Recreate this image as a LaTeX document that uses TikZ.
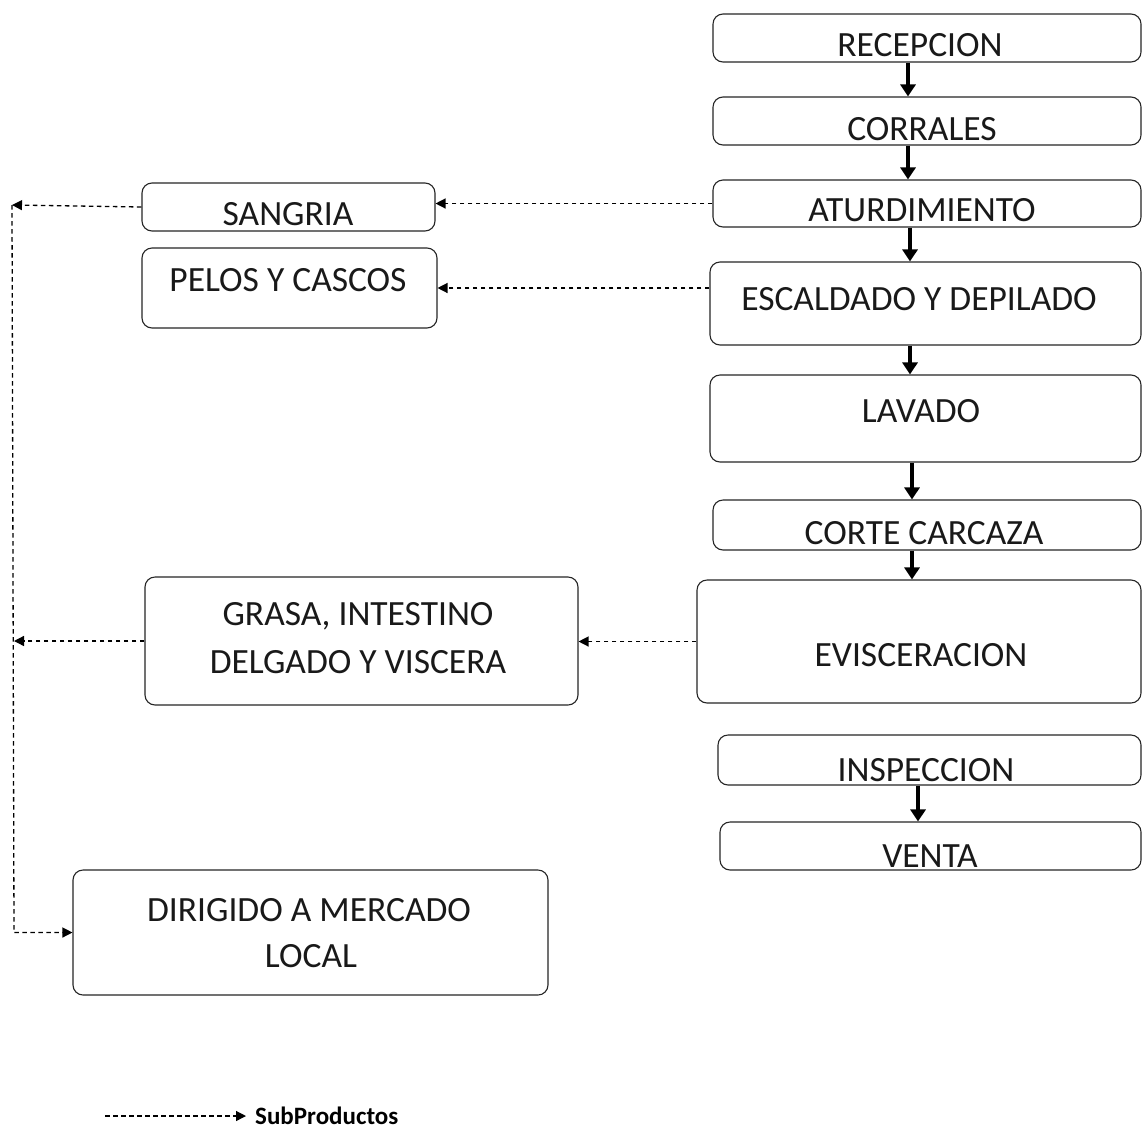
\documentclass[tikz,border=0pt]{standalone}
\usepackage{fontspec}
\setmainfont{Carlito}
\usetikzlibrary{arrows.meta}
\tikzset{
  box/.style={draw=black!85, line width=1.1pt, rounded corners=10pt, inner sep=0pt},
  lbl/.style={font=\fontsize{35.5}{48}\selectfont, inner sep=0pt, align=center, text=black!90},
  flow/.style={line width=3.8pt, -{Triangle[length=12pt,width=15pt]}},
  sub/.style={line width=1.3pt, dash pattern=on 4.5pt off 3.5pt, -{Triangle[length=10pt,width=10pt]}},
}
\begin{document}
\begin{tikzpicture}[x=1pt,y=-1pt]
\useasboundingbox[fill=white] (0,0) rectangle (1145,1130);

% main flow boxes
\node[box, minimum width=428pt, minimum height=48pt] (rec) at (927,38) {};
\node[box, minimum width=428pt, minimum height=48pt] (cor) at (927,121) {};
\node[box, minimum width=428pt, minimum height=47pt] (atu) at (927,203.5) {};
\node[box, minimum width=431pt, minimum height=83pt] (esc) at (925.5,303.5) {};
\node[box, minimum width=431pt, minimum height=87pt] (lav) at (925.5,418.5) {};
\node[box, minimum width=428pt, minimum height=50pt] (cc) at (927,525) {};
\node[box, minimum width=444pt, minimum height=123pt] (evi) at (919,641.5) {};
\node[box, minimum width=423pt, minimum height=50pt] (insp) at (929.5,760) {};
\node[box, minimum width=421pt, minimum height=48pt] (ven) at (930.5,846) {};

% by-product boxes
\node[box, minimum width=293pt, minimum height=48pt] (san) at (288.5,207) {};
\node[box, minimum width=295pt, minimum height=80pt] (pel) at (289.5,288) {};
\node[box, minimum width=433pt, minimum height=128pt] (gra) at (361.5,641) {};
\node[box, minimum width=475pt, minimum height=125pt] (dir) at (310.5,932.5) {};

% labels
\node[lbl, anchor=base] (recT) at (920,56) {RECEPCION};
\node[lbl, anchor=base] (corT) at (922,140) {CORRALES};
\node[lbl, anchor=base] (atuT) at (922,221) {ATURDIMIENTO};
\node[lbl, anchor=base] (escT) at (919,310) {ESCALDADO Y DEPILADO};
\node[lbl, anchor=base] (lavT) at (921,422) {LAVADO};
\node[lbl, anchor=base] (ccT) at (924,544) {CORTE CARCAZA};
\node[lbl, anchor=base] (eviT) at (921,666) {EVISCERACION};
\node[lbl, anchor=base] (inspT) at (926,781) {INSPECCION};
\node[lbl, anchor=base] (venT) at (930,867) {VENTA};
\node[lbl, anchor=base] (sanT) at (288,225) {SANGRIA};
\node[lbl, anchor=base] (pelT) at (288,291) {PELOS Y CASCOS};
\node[lbl, anchor=base] (graT1) at (358,625) {GRASA, INTESTINO};
\node[lbl, anchor=base] (graT2) at (358,673) {DELGADO Y VISCERA};
\node[lbl, anchor=base] (dirT1) at (309,921) {DIRIGIDO A MERCADO};
\node[lbl, anchor=base] (dirT2) at (311,967) {LOCAL};

% main flow arrows
\draw[flow] (rec.south -| 908,0) -- (cor.north -| 908,0);
\draw[flow] (cor.south -| 908,0) -- (atu.north -| 908,0);
\draw[flow] (atu.south -| 910,0) -- (esc.north -| 910,0);
\draw[flow] (esc.south -| 910,0) -- (lav.north -| 910,0);
\draw[flow] (lav.south -| 912,0) -- (cc.north -| 912,0);
\draw[flow] (cc.south -| 912,0) -- (evi.north -| 912,0);
\draw[flow] (insp.south -| 918,0) -- (ven.north -| 918,0);

% by-product arrows
\draw[sub] (atu.west) -- (san.east |- atu.west);
\draw[sub] (esc.west |- pel.east) -- (pel.east);
\draw[sub] (evi.west) -- (gra.east |- evi.west);

\coordinate (ltop) at (12,205);
\coordinate (lmid) at (14,641);
\coordinate (lbot) at (14,932.5);
\draw[sub] (san.west) -- (ltop);
\draw[sub] (gra.west) -- (lmid);
\draw[sub] (ltop) -- (lbot) -- (dir.west);

% legend
\coordinate (legA) at (105,1116);
\node[inner sep=0pt, anchor=west, font=\fontsize{25}{30}\selectfont\bfseries] (legT) at (255,1116) {SubProductos};
\draw[sub, shorten >=9pt] (legA) -- (legT.west);
\end{tikzpicture}
\end{document}
